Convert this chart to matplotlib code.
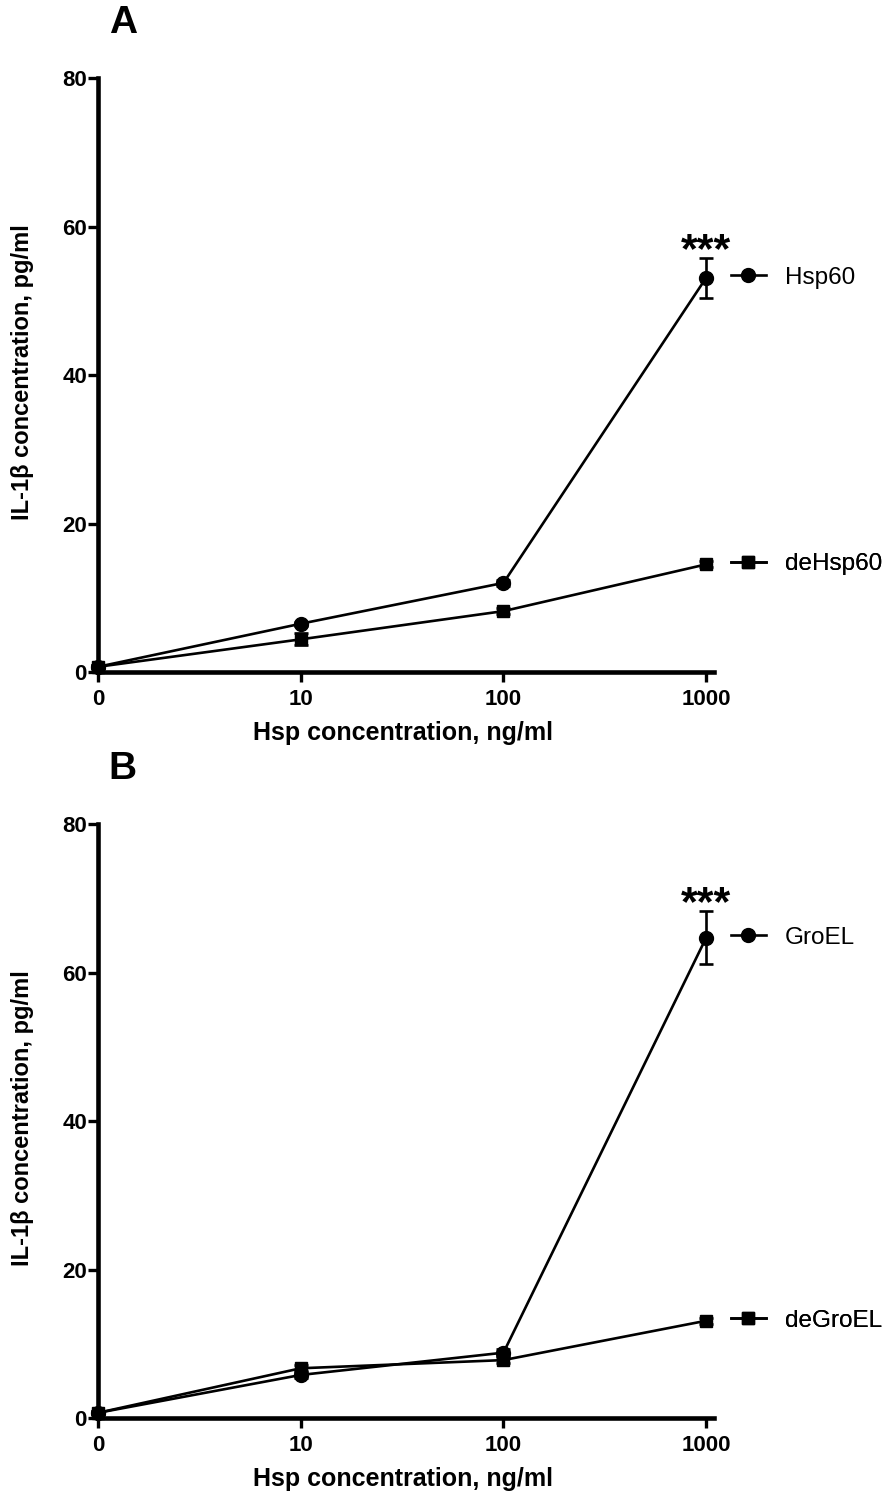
import numpy as np
import matplotlib
matplotlib.use("Agg")
import matplotlib.pyplot as plt
from matplotlib.lines import Line2D

plt.rcParams['font.family'] = ['Liberation Sans', 'DejaVu Sans']

# Datos
dosis = ['0', '10', '100', '1000']
y_ticks = [0, 20, 40, 60, 80]

hsp60 = [0.7, 6.5, 12.0, 53.1]
hsp60_err = [0.2, 0.3, 0.4, 2.7]
dehsp60 = [0.7, 4.4, 8.2, 14.5]
dehsp60_err = [0.2, 0.8, 0.4, 0.4]

groel = [0.7, 5.8, 8.8, 64.7]
groel_err = [0.2, 0.4, 0.5, 3.6]
degroel = [0.7, 6.7, 7.8, 13.1]
degroel_err = [0.2, 0.4, 0.4, 0.4]

paneles = [
    ('A', 'Hsp60', hsp60, hsp60_err, 'deHsp60', dehsp60, dehsp60_err),
    ('B', 'GroEL', groel, groel_err, 'deGroEL', degroel, degroel_err),
]

fig = plt.figure(figsize=(8.88, 14.95), dpi=100)
posiciones = [[0.1104, 0.5505, 0.694, 0.3973], [0.1104, 0.0515, 0.694, 0.3973]]


def graficar_panel(ax, letra, n1, v1, e1, n2, v2, e2):
    x = np.arange(len(dosis))
    h1 = ax.errorbar(x, v1, yerr=e1, color='black', marker='o', markersize=10,
                     linewidth=1.9, elinewidth=1.9, capsize=5, capthick=1.9,
                     clip_on=False, zorder=3)
    h2 = ax.errorbar(x, v2, yerr=e2, color='black', marker='s', markersize=9,
                     linewidth=1.9, elinewidth=1.9, capsize=5, capthick=1.9,
                     clip_on=False, zorder=4)
    for c in h1.get_children() + h2.get_children():
        c.set_clip_on(False)

    ax.set_xlim(0, 3.04)
    ax.set_ylim(0, 80)
    ax.set_xticks(x)
    ax.set_xticklabels(dosis)
    ax.set_yticks(y_ticks)
    for s in ['top', 'right']:
        ax.spines[s].set_visible(False)
    for s in ['left', 'bottom']:
        ax.spines[s].set_linewidth(3.3)
    ax.tick_params(axis='both', length=7, width=2.4, labelsize=16)
    ax.tick_params(axis='y', pad=1)
    ax.tick_params(axis='x', pad=5)
    for lbl in ax.get_xticklabels() + ax.get_yticklabels():
        lbl.set_fontweight('bold')

    ax.set_xlabel('Hsp concentration, ng/ml', fontsize=18, fontweight='bold')
    ax.set_ylabel('IL-1β concentration, pg/ml', fontsize=17, fontweight='bold')
    ax.xaxis.label.set_va('center')
    ax.yaxis.label.set_va('center')
    ax.xaxis.set_label_coords(0.495, -0.103)
    ax.yaxis.set_label_coords(-0.123, 0.505)

    # asteriscos sobre la barra de error
    ax.annotate('***', xy=(x[-1], v1[-1] + e1[-1]), xytext=(0, -3),
                textcoords='offset points', ha='center', va='baseline',
                fontsize=31, fontweight='bold')

    ax.text(0.04, 1.092, letra, transform=ax.transAxes, fontsize=28,
            fontweight='bold', ha='center', va='center')

    # leyendas al lado del ultimo punto
    for nombre, vals, mk, ms in [(n1, v1, 'o', 10), (n2, v2, 's', 9)]:
        h = Line2D([], [], color='black', marker=mk, markersize=ms, linewidth=1.9)
        leg = ax.legend(handles=[h], labels=[nombre], loc='center left',
                        bbox_to_anchor=(3.12, vals[-1]), bbox_transform=ax.transData,
                        frameon=False, fontsize=17.5, handlelength=1.45,
                        handletextpad=0.8, borderpad=0, borderaxespad=0)
        ax.add_artist(leg)


for pos, (letra, n1, v1, e1, n2, v2, e2) in zip(posiciones, paneles):
    ax = fig.add_axes(pos)
    graficar_panel(ax, letra, n1, v1, e1, n2, v2, e2)

fig.savefig('out.png', dpi=100)
